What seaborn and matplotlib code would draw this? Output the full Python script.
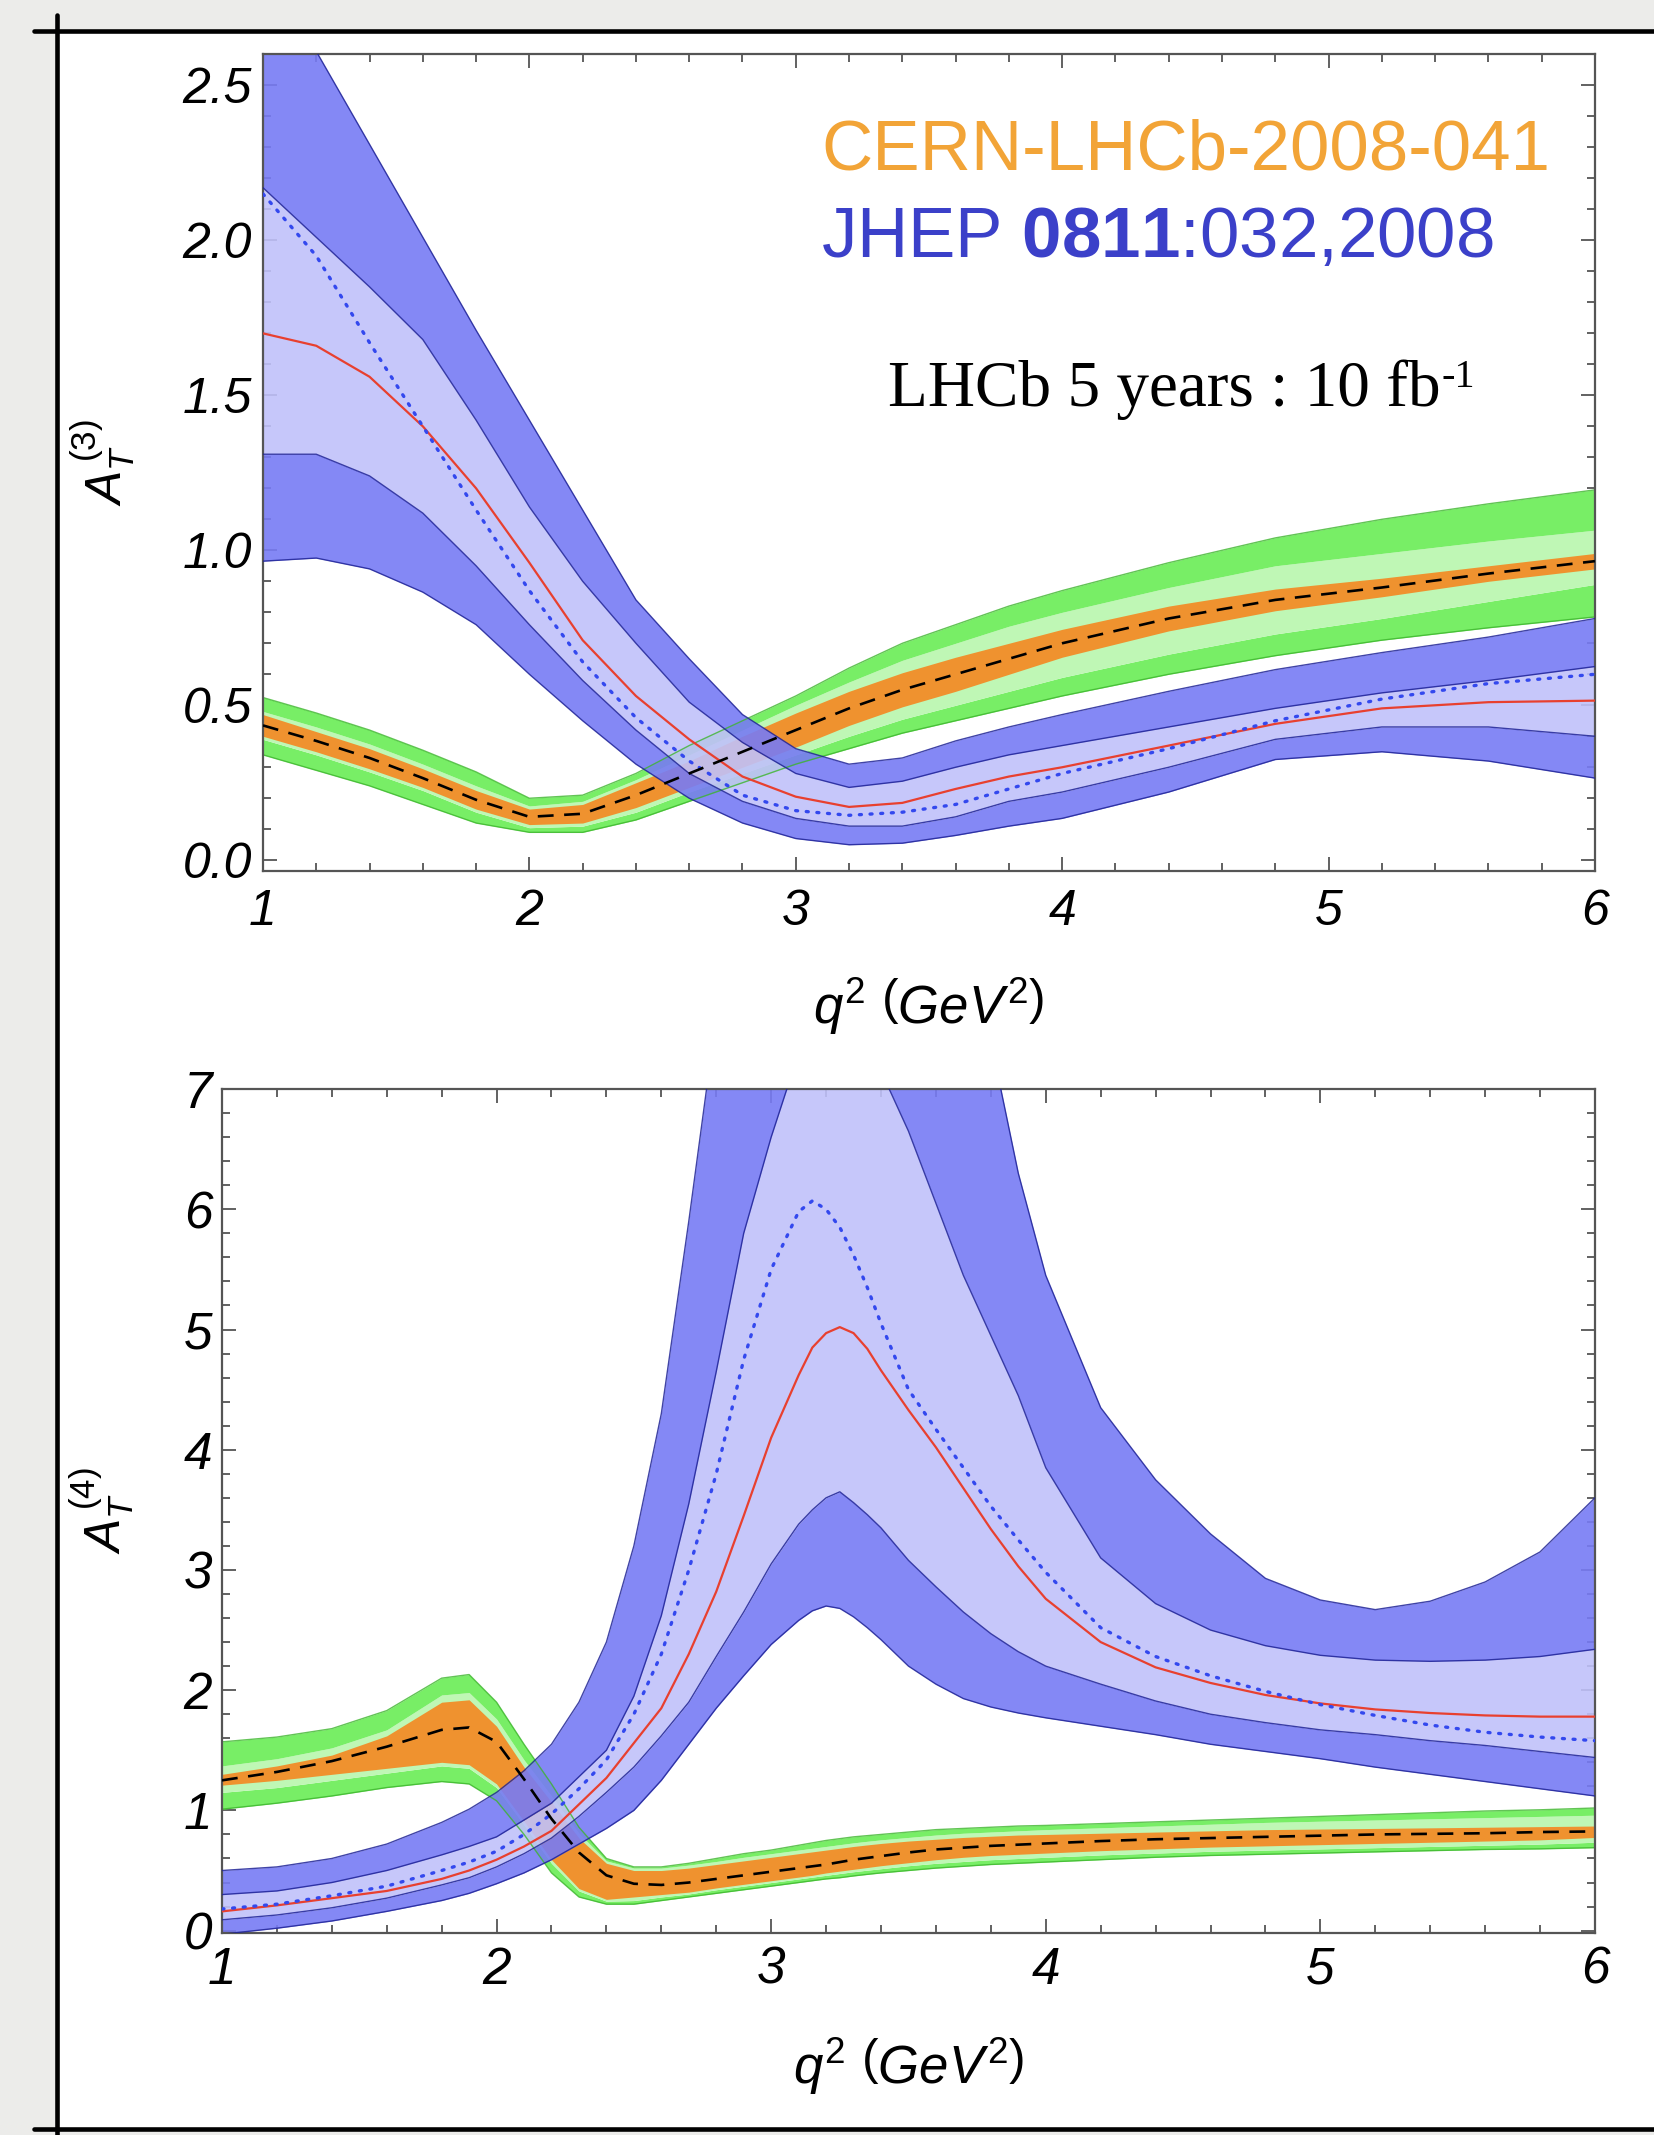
import matplotlib
matplotlib.use("Agg")
import matplotlib.pyplot as plt
import seaborn as sns
from matplotlib.ticker import MultipleLocator
from matplotlib.lines import Line2D
from matplotlib.patches import Rectangle

# ---------------- A_T^(3) panel ----------------
q2_top = [1.0, 1.2, 1.4, 1.6, 1.8, 2.0, 2.2, 2.4, 2.6, 2.8, 3.0, 3.2, 3.4, 3.6, 3.8, 4.0, 4.4, 4.8, 5.2, 5.6, 6.0]

# JHEP 0811:032 prediction (blue): 2-sigma / 1-sigma edges, central (red) and alternative (dotted)
t3_np_hi2 = [2.92, 2.61, 2.31, 2.01, 1.71, 1.42, 1.13, 0.84, 0.65, 0.47, 0.36, 0.31, 0.33, 0.385, 0.43, 0.47, 0.545, 0.615, 0.67, 0.72, 0.78]
t3_np_hi1 = [2.17, 2.01, 1.85, 1.68, 1.42, 1.14, 0.90, 0.70, 0.51, 0.38, 0.28, 0.235, 0.255, 0.30, 0.34, 0.37, 0.43, 0.49, 0.54, 0.58, 0.625]
t3_np_mid = [1.70, 1.66, 1.56, 1.40, 1.20, 0.96, 0.71, 0.53, 0.39, 0.27, 0.205, 0.172, 0.185, 0.23, 0.27, 0.30, 0.37, 0.44, 0.49, 0.51, 0.515]
t3_np_alt = [2.15, 1.95, 1.67, 1.40, 1.13, 0.87, 0.64, 0.46, 0.32, 0.21, 0.16, 0.145, 0.155, 0.18, 0.23, 0.28, 0.36, 0.45, 0.52, 0.57, 0.60]
t3_np_lo1 = [1.31, 1.31, 1.24, 1.12, 0.95, 0.76, 0.58, 0.42, 0.28, 0.19, 0.135, 0.11, 0.11, 0.14, 0.19, 0.22, 0.30, 0.39, 0.43, 0.43, 0.40]
t3_np_lo2 = [0.965, 0.975, 0.94, 0.865, 0.76, 0.60, 0.45, 0.31, 0.20, 0.12, 0.07, 0.05, 0.055, 0.08, 0.11, 0.135, 0.22, 0.325, 0.35, 0.32, 0.265]

# CERN-LHCb-2008-041 prediction (green / orange) with dashed central value
t3_sm_hi2 = [0.525, 0.475, 0.42, 0.355, 0.285, 0.20, 0.21, 0.28, 0.37, 0.45, 0.53, 0.62, 0.70, 0.76, 0.82, 0.87, 0.96, 1.04, 1.10, 1.15, 1.195]
t3_sm_hi1 = [0.48, 0.43, 0.375, 0.31, 0.24, 0.175, 0.19, 0.26, 0.34, 0.42, 0.50, 0.575, 0.645, 0.70, 0.755, 0.80, 0.88, 0.95, 0.99, 1.03, 1.065]
t3_sm_oh = [0.47, 0.415, 0.36, 0.295, 0.225, 0.165, 0.18, 0.25, 0.32, 0.40, 0.475, 0.545, 0.605, 0.655, 0.70, 0.745, 0.82, 0.875, 0.91, 0.95, 0.99]
t3_sm_c = [0.435, 0.385, 0.33, 0.265, 0.195, 0.14, 0.15, 0.21, 0.28, 0.35, 0.42, 0.49, 0.55, 0.60, 0.65, 0.70, 0.78, 0.84, 0.88, 0.925, 0.965]
t3_sm_ol = [0.40, 0.35, 0.295, 0.235, 0.165, 0.115, 0.12, 0.17, 0.235, 0.30, 0.365, 0.435, 0.495, 0.545, 0.60, 0.655, 0.74, 0.805, 0.85, 0.90, 0.94]
t3_sm_lo1 = [0.39, 0.34, 0.285, 0.225, 0.155, 0.105, 0.11, 0.155, 0.22, 0.28, 0.34, 0.40, 0.455, 0.50, 0.545, 0.59, 0.665, 0.73, 0.78, 0.835, 0.89]
t3_sm_lo2 = [0.34, 0.29, 0.24, 0.18, 0.12, 0.09, 0.09, 0.13, 0.19, 0.25, 0.31, 0.36, 0.41, 0.45, 0.49, 0.53, 0.60, 0.66, 0.71, 0.75, 0.785]

# ---------------- A_T^(4) panel ----------------
q2_bot = [1.0, 1.2, 1.4, 1.6, 1.8, 1.9, 2.0, 2.1, 2.2, 2.3, 2.4, 2.5, 2.6, 2.7, 2.8, 2.9, 3.0, 3.1, 3.15, 3.2, 3.25,
          3.3, 3.35, 3.4, 3.5, 3.6, 3.7, 3.8, 3.9, 4.0, 4.2, 4.4, 4.6, 4.8, 5.0, 5.2, 5.4, 5.6, 5.8, 6.0]

t4_np_hi2 = [0.50, 0.53, 0.60, 0.72, 0.90, 1.01, 1.15, 1.33, 1.55, 1.90, 2.40, 3.20, 4.30, 5.90, 7.60, 9.0, 10.0, 10.6, 10.7, 10.8, 10.8,
             10.6, 10.3, 10.0, 9.3, 8.6, 8.0, 7.4, 6.3, 5.45, 4.35, 3.75, 3.3, 2.93, 2.75, 2.67, 2.74, 2.9, 3.15, 3.6]
t4_np_hi1 = [0.30, 0.33, 0.40, 0.50, 0.63, 0.70, 0.78, 0.92, 1.06, 1.28, 1.50, 1.95, 2.62, 3.55, 4.65, 5.8, 6.6, 7.3, 7.5, 7.7, 7.75,
             7.65, 7.4, 7.15, 6.65, 6.05, 5.45, 4.95, 4.45, 3.85, 3.1, 2.72, 2.5, 2.37, 2.29, 2.25, 2.24, 2.25, 2.28, 2.34]
t4_np_mid = [0.16, 0.21, 0.27, 0.33, 0.43, 0.50, 0.59, 0.70, 0.83, 1.05, 1.27, 1.56, 1.85, 2.30, 2.82, 3.45, 4.10, 4.62, 4.85, 4.97, 5.02,
             4.97, 4.84, 4.66, 4.33, 4.02, 3.68, 3.34, 3.03, 2.76, 2.40, 2.19, 2.06, 1.96, 1.89, 1.84, 1.81, 1.79, 1.78, 1.78]
t4_np_alt = [0.18, 0.22, 0.29, 0.37, 0.50, 0.57, 0.66, 0.80, 0.97, 1.18, 1.42, 1.80, 2.30, 3.0, 3.8, 4.75, 5.5, 5.98, 6.07, 6.0, 5.85,
             5.62, 5.35, 5.05, 4.5, 4.17, 3.85, 3.53, 3.25, 2.98, 2.52, 2.28, 2.12, 1.99, 1.88, 1.79, 1.71, 1.65, 1.61, 1.58]
t4_np_lo1 = [0.09, 0.13, 0.19, 0.27, 0.38, 0.44, 0.53, 0.64, 0.77, 0.95, 1.15, 1.36, 1.62, 1.90, 2.28, 2.65, 3.05, 3.38, 3.50, 3.60, 3.65,
             3.56, 3.46, 3.35, 3.08, 2.86, 2.65, 2.47, 2.32, 2.20, 2.05, 1.91, 1.80, 1.73, 1.67, 1.63, 1.58, 1.54, 1.49, 1.44]
t4_np_lo2 = [-0.03, 0.02, 0.08, 0.16, 0.25, 0.31, 0.39, 0.48, 0.59, 0.72, 0.85, 1.00, 1.25, 1.55, 1.85, 2.12, 2.38, 2.58, 2.66, 2.70, 2.68,
             2.61, 2.52, 2.42, 2.20, 2.05, 1.93, 1.86, 1.81, 1.77, 1.70, 1.63, 1.55, 1.49, 1.43, 1.36, 1.30, 1.24, 1.18, 1.12]

t4_sm_hi2 = [1.57, 1.61, 1.68, 1.83, 2.10, 2.13, 1.90, 1.55, 1.22, 0.86, 0.60, 0.53, 0.53, 0.56, 0.60, 0.64, 0.67, 0.71, 0.73, 0.75, 0.765,
             0.78, 0.79, 0.80, 0.82, 0.84, 0.85, 0.86, 0.87, 0.875, 0.89, 0.905, 0.92, 0.935, 0.95, 0.965, 0.98, 0.995, 1.005, 1.02]
t4_sm_hi1 = [1.37, 1.43, 1.52, 1.67, 1.96, 1.98, 1.76, 1.42, 1.12, 0.81, 0.58, 0.52, 0.52, 0.545, 0.575, 0.61, 0.64, 0.67, 0.685, 0.70, 0.715,
             0.73, 0.743, 0.755, 0.775, 0.795, 0.81, 0.82, 0.83, 0.84, 0.855, 0.87, 0.885, 0.90, 0.91, 0.92, 0.93, 0.94, 0.95, 0.96]
t4_sm_oh = [1.30, 1.37, 1.46, 1.62, 1.90, 1.92, 1.70, 1.36, 1.07, 0.77, 0.56, 0.50, 0.50, 0.52, 0.55, 0.58, 0.61, 0.64, 0.655, 0.67, 0.685,
            0.70, 0.713, 0.725, 0.745, 0.76, 0.775, 0.785, 0.795, 0.80, 0.81, 0.82, 0.83, 0.84, 0.845, 0.85, 0.855, 0.86, 0.865, 0.87]
t4_sm_c = [1.25, 1.32, 1.41, 1.53, 1.67, 1.69, 1.57, 1.26, 0.93, 0.65, 0.46, 0.39, 0.38, 0.40, 0.43, 0.46, 0.49, 0.52, 0.535, 0.55, 0.57,
           0.59, 0.605, 0.62, 0.65, 0.675, 0.69, 0.705, 0.715, 0.725, 0.745, 0.76, 0.77, 0.78, 0.79, 0.80, 0.805, 0.81, 0.82, 0.825]
t4_sm_ol = [1.21, 1.25, 1.30, 1.35, 1.40, 1.38, 1.22, 0.91, 0.59, 0.35, 0.26, 0.28, 0.30, 0.32, 0.355, 0.385, 0.415, 0.445, 0.46, 0.48, 0.495,
            0.51, 0.525, 0.54, 0.565, 0.59, 0.61, 0.625, 0.635, 0.645, 0.665, 0.68, 0.695, 0.705, 0.715, 0.725, 0.735, 0.745, 0.755, 0.775]
t4_sm_lo1 = [1.15, 1.19, 1.25, 1.31, 1.37, 1.35, 1.19, 0.88, 0.56, 0.33, 0.245, 0.25, 0.28, 0.305, 0.34, 0.37, 0.40, 0.43, 0.445, 0.46, 0.475,
             0.49, 0.503, 0.515, 0.54, 0.56, 0.575, 0.59, 0.60, 0.61, 0.63, 0.645, 0.66, 0.67, 0.68, 0.69, 0.70, 0.71, 0.72, 0.735]
t4_sm_lo2 = [1.01, 1.06, 1.12, 1.19, 1.24, 1.22, 1.08, 0.80, 0.48, 0.28, 0.22, 0.22, 0.25, 0.28, 0.31, 0.34, 0.37, 0.40, 0.415, 0.43, 0.44,
             0.455, 0.468, 0.48, 0.50, 0.52, 0.535, 0.55, 0.56, 0.57, 0.59, 0.61, 0.625, 0.635, 0.645, 0.655, 0.665, 0.675, 0.68, 0.69]

top_yticks = [0.0, 0.5, 1.0, 1.5, 2.0, 2.5]
top_ylabels = ["0.0", "0.5", "1.0", "1.5", "2.0", "2.5"]
bot_yticks = [0, 1, 2, 3, 4, 5, 6, 7]
bot_ylabels = ["0", "1", "2", "3", "4", "5", "6", "7"]
x_ticks = [1, 2, 3, 4, 5, 6]
x_labels = ["1", "2", "3", "4", "5", "6"]

# ---------------- style ----------------
sns.set_theme(style="white")
plt.rcParams["font.family"] = ["Liberation Sans", "DejaVu Sans"]
plt.rcParams["mathtext.fontset"] = "custom"
plt.rcParams["mathtext.rm"] = "Liberation Sans"
plt.rcParams["mathtext.it"] = "Liberation Sans:italic"
plt.rcParams["mathtext.bf"] = "Liberation Sans:bold"

DARK_BLUE = "#777bf4"
LIGHT_BLUE = "#c0c1fa"
BLUE_EDGE = "#1f2396"
GREEN = "#78ee66"
LIGHT_GREEN = "#bff7b5"
GREEN_EDGE = "#3cb52c"
ORANGE = "#ef922f"
RED = "#e8402f"
DOT_BLUE = "#3348ee"
FRAME = "#555555"

fig = plt.figure(figsize=(16.54, 21.35), dpi=100, facecolor="#ececea")
fig.add_artist(Rectangle((0.0345, 0.0028), 0.9655, 0.9827, transform=fig.transFigure,
                         facecolor="white", edgecolor="none", zorder=-5))
fig.add_artist(Line2D([0.0345, 0.0345], [0.0, 0.993], transform=fig.transFigure, color="black", lw=3.3, zorder=10))
fig.add_artist(Line2D([0.0206, 1.0], [0.9855, 0.9855], transform=fig.transFigure, color="black", lw=3.3, zorder=10))
fig.add_artist(Line2D([0.0206, 1.0], [0.0028, 0.0028], transform=fig.transFigure, color="black", lw=3.3, zorder=10))

ax1 = fig.add_axes([0.1590, 0.5920, 0.8053, 0.3825])
ax2 = fig.add_axes([0.1342, 0.0946, 0.8301, 0.3953])


def line(ax, x, y, **kw):
    sns.lineplot(x=x, y=y, ax=ax, estimator=None, sort=False, legend=False, **kw)


def draw_panel(ax, x, sm, np_):
    sm_lo2, sm_lo1, sm_ol, sm_c, sm_oh, sm_hi1, sm_hi2 = sm
    np_lo2, np_lo1, np_mid, np_alt, np_hi1, np_hi2 = np_
    # SM-like band: 2 sigma (green), 1 sigma (light green), theory (orange)
    ax.fill_between(x, sm_lo2, sm_lo1, color=GREEN, lw=0, zorder=1)
    ax.fill_between(x, sm_lo1, sm_hi1, color=LIGHT_GREEN, lw=0, zorder=1)
    ax.fill_between(x, sm_hi1, sm_hi2, color=GREEN, lw=0, zorder=1)
    ax.fill_between(x, sm_ol, sm_oh, color=ORANGE, lw=0, zorder=1.5)
    # New-physics band
    ax.fill_between(x, np_lo2, np_lo1, color=DARK_BLUE, lw=0, alpha=0.9, zorder=2)
    ax.fill_between(x, np_lo1, np_hi1, color=LIGHT_BLUE, lw=0, alpha=0.9, zorder=2)
    ax.fill_between(x, np_hi1, np_hi2, color=DARK_BLUE, lw=0, alpha=0.9, zorder=2)
    for y in (sm_lo2, sm_hi2):
        line(ax, x, y, color=GREEN_EDGE, lw=1.0, alpha=0.8, zorder=2.5)
    for y in (np_lo2, np_lo1, np_hi1, np_hi2):
        line(ax, x, y, color=BLUE_EDGE, lw=1.0, alpha=0.85, zorder=3)
    line(ax, x, np_mid, color=RED, lw=1.6, zorder=4)
    line(ax, x, np_alt, color=DOT_BLUE, lw=2.4, linestyle=(0, (0.6, 2.6)),
         solid_capstyle="round", dash_capstyle="round", zorder=4)
    line(ax, x, sm_c, color="black", lw=1.9, linestyle=(0, (6, 4)), zorder=4.5)


def style_axes(ax, ylim, yticks, ylabels, yminor, fs, xpad, ypad):
    ax.set_xlim(1, 6)
    ax.set_ylim(*ylim)
    ax.set_facecolor("white")
    for s in ax.spines.values():
        s.set_visible(True)
        s.set_color(FRAME)
        s.set_linewidth(1.6)
    ax.set_xticks(x_ticks)
    ax.set_xticklabels(x_labels, fontsize=fs, fontstyle="italic", color="black")
    ax.set_yticks(yticks)
    ax.set_yticklabels(ylabels, fontsize=fs, fontstyle="italic", color="black")
    ax.xaxis.set_minor_locator(MultipleLocator(0.2))
    ax.yaxis.set_minor_locator(MultipleLocator(yminor))
    ax.tick_params(which="both", direction="in", bottom=True, left=True, top=True, right=True,
                   color=FRAME, width=1.3)
    ax.tick_params(which="major", length=10)
    ax.tick_params(which="minor", length=5.5)
    ax.tick_params(axis="x", which="major", pad=xpad)
    ax.tick_params(axis="y", which="major", pad=ypad)
    ax.grid(False)


draw_panel(ax1, q2_top,
           (t3_sm_lo2, t3_sm_lo1, t3_sm_ol, t3_sm_c, t3_sm_oh, t3_sm_hi1, t3_sm_hi2),
           (t3_np_lo2, t3_np_lo1, t3_np_mid, t3_np_alt, t3_np_hi1, t3_np_hi2))
draw_panel(ax2, q2_bot,
           (t4_sm_lo2, t4_sm_lo1, t4_sm_ol, t4_sm_c, t4_sm_oh, t4_sm_hi1, t4_sm_hi2),
           (t4_np_lo2, t4_np_lo1, t4_np_mid, t4_np_alt, t4_np_hi1, t4_np_hi2))

style_axes(ax1, (-0.035, 2.6), top_yticks, top_ylabels, 0.1, 36, 13, 8)
style_axes(ax2, (-0.02, 7.0), bot_yticks, bot_ylabels, 0.2, 37, 9, 7)

xlab = r"$q^2\ \left(GeV^2\right)$"
ax1.set_xlabel(xlab, fontsize=38, color="black")
ax1.xaxis.set_label_coords(0.5, -0.128)
ax2.set_xlabel(xlab, fontsize=38, color="black")
ax2.xaxis.set_label_coords(0.5, -0.122)
ax1.set_ylabel(r"$A_T^{\,(3)}$", fontsize=36, color="black")
ax1.yaxis.set_label_coords(-0.094, 0.5)
ax2.set_ylabel(r"$A_T^{\,(4)}$", fontsize=36, color="black")
ax2.yaxis.set_label_coords(-0.062, 0.5)

ax1.text(0.419, 0.8585, "CERN-LHCb-2008-041", transform=ax1.transAxes, fontsize=51,
         color="#f2a437", ha="left", va="baseline", zorder=6)
ax1.text(0.419, 0.752, r"JHEP $\mathbf{0811}$:032,2008", transform=ax1.transAxes, fontsize=51,
         color="#3b40c9", ha="left", va="baseline", zorder=6)
lhcb = ax1.text(0.469, 0.5695, "LHCb 5 years : 10 fb", transform=ax1.transAxes,
                fontsize=47, family="Liberation Serif", color="black", ha="left", va="baseline", zorder=6)
ax1.annotate("-1", xy=(1.0, 1.0), xycoords=lhcb, xytext=(1, 0), textcoords="offset points",
             fontsize=29, family="Liberation Serif", color="black", ha="left", va="top", zorder=6)

fig.savefig("out.png", dpi=100, facecolor=fig.get_facecolor())
